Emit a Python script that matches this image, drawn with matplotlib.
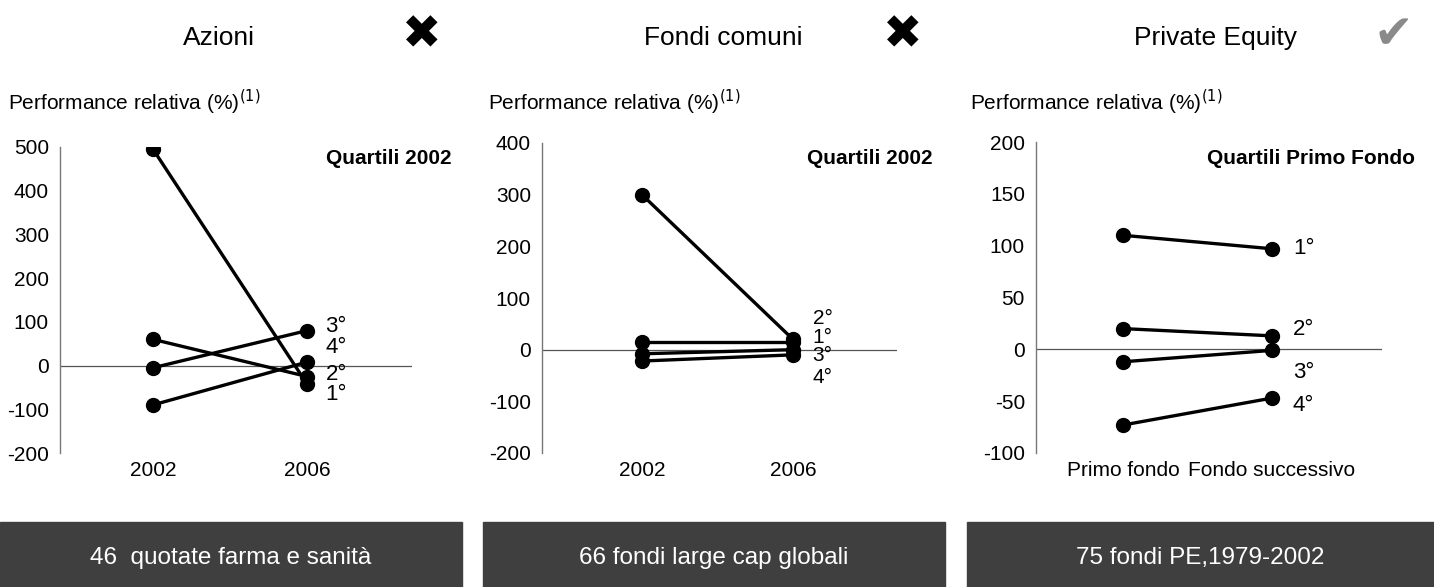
import matplotlib.pyplot as plt
from matplotlib.patches import Rectangle

plt.rcParams['font.family'] = ['Liberation Sans', 'DejaVu Sans']
plt.rcParams['axes.unicode_minus'] = False

# dati
titoli = ["Azioni", "Fondi comuni", "Private Equity"]
icone = ["✖", "✖", "✔"]
sottotitoli = ["Quartili 2002", "Quartili 2002", "Quartili Primo Fondo"]
box_testi = ["46  quotate farma e sanità", "66 fondi large cap globali", "75 fondi PE,1979-2002"]

az_x = ["2002", "2006"]
az_inizio = [495, 60, -5, -90]      # 1°, 2°, 3°, 4°
az_fine = [-42, -25, 80, 8]
az_lab_y = [-66, -20, 90, 42]

fc_x = ["2002", "2006"]
fc_inizio = [300, 15, -8, -22]
fc_fine = [20, 15, 0, -10]
fc_lab_y = [24, 60, -11, -54]

pe_x = ["Primo fondo", "Fondo successivo"]
pe_inizio = [110, 20, -12, -73]
pe_fine = [97, 13, -1, -47]
pe_lab_y = [97, 19, -22, -54]

etichette = ["1°", "2°", "3°", "4°"]

fig = plt.figure(figsize=(14.34, 5.87), dpi=100)
W, H = 1434, 587

def box(px0, py0, px1, py1):
    return [px0 / W, 1 - py1 / H, (px1 - px0) / W, (py1 - py0) / H]

pannelli = [
    dict(rect=box(60, 147, 412, 453), xlim=(-0.604, 1.682), ylim=(-200, 500), step=100,
         xl=az_x, a=az_inizio, b=az_fine, ly=az_lab_y, qx=452, lx=1.12, fs=16),
    dict(rect=box(542, 143, 897, 453), xlim=(-0.662, 1.689), ylim=(-200, 400), step=100,
         xl=fc_x, a=fc_inizio, b=fc_fine, ly=fc_lab_y, qx=933, lx=1.13, fs=15),
    dict(rect=box(1036, 142, 1382, 453), xlim=(-0.584, 1.738), ylim=(-100, 200), step=50,
         xl=pe_x, a=pe_inizio, b=pe_fine, ly=pe_lab_y, qx=1415, lx=1.14, fs=16),
]

for i, p in enumerate(pannelli):
    ax = fig.add_axes(p["rect"])
    for a, b in zip(p["a"], p["b"]):
        ax.plot([0, 1], [a, b], color="black", lw=2.4, marker="o", markersize=10,
                solid_capstyle="round", zorder=3)
    for k in range(4):
        ax.text(p["lx"], p["ly"][k], etichette[k], fontsize=p["fs"], va="center", ha="left")
    ax.axhline(0, color="#555555", lw=0.9, zorder=1)
    ax.set_xlim(*p["xlim"])
    ax.set_ylim(*p["ylim"])
    lo, hi = p["ylim"]
    ax.set_yticks(list(range(lo, hi + 1, p["step"])))
    ax.set_xticks([0, 1])
    ax.set_xticklabels(p["xl"])
    ax.tick_params(length=0, labelsize=15, pad=6)
    ax.tick_params(axis="y", pad=8)
    for s in ["top", "right", "bottom"]:
        ax.spines[s].set_visible(False)
    ax.spines["left"].set_color("#777777")
    ax.spines["left"].set_linewidth(1.0)
    ax.patch.set_alpha(0)

    fig.text(p["qx"] / W, 1 - 158 / H, sottotitoli[i], fontsize=15, fontweight="bold",
             ha="right", va="center")

# intestazioni
centri_titolo = [219, 723, 1215]
x_icone = [422, 903, 1393]
for i in range(3):
    fig.text(centri_titolo[i] / W, 1 - 38 / H, titoli[i], fontsize=19, ha="center", va="center")
    col = "black" if i < 2 else "#8a8a8a"
    fig.text(x_icone[i] / W, 1 - 36 / H, icone[i], fontsize=34, ha="center", va="center",
             color=col, family=["DejaVu Sans"])
    x0 = [8, 488, 970][i]
    fig.text(x0 / W, 1 - 102 / H, "Performance relativa (%)$^{(1)}$", fontsize=15,
             ha="left", va="center")

# riquadri in basso
box_x = [(0, 462), (483, 945), (967, 1434)]
for i, (x0, x1) in enumerate(box_x):
    fig.patches.append(Rectangle((x0 / W, 0), (x1 - x0) / W, (587 - 522) / H,
                                 transform=fig.transFigure, color="#3f3f3f", zorder=0))
    fig.text((x0 + x1) / 2 / W, 1 - 558 / H, box_testi[i], fontsize=17.5, color="white",
             ha="center", va="center")

fig.savefig("out.png", dpi=100)
